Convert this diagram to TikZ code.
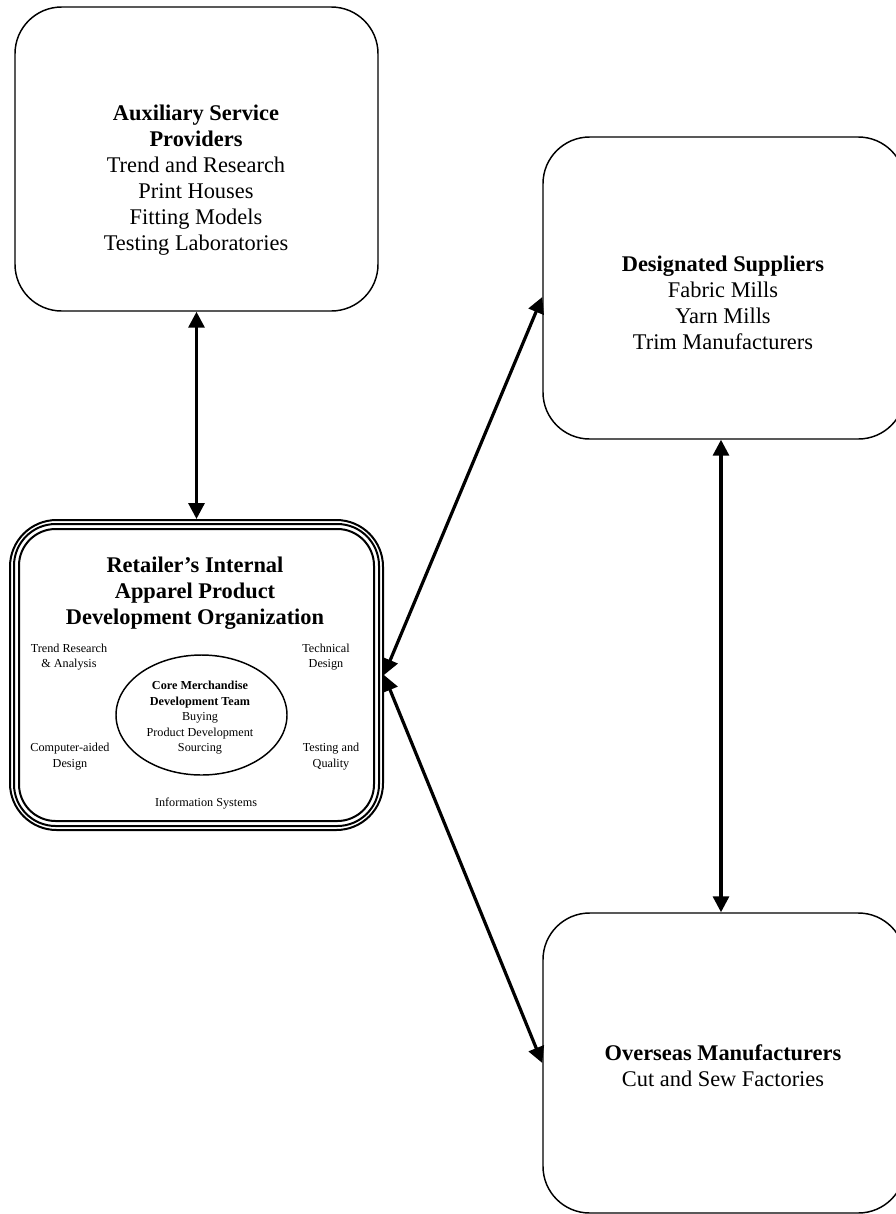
\documentclass[tikz,border=0pt]{standalone}
\usepackage{fontspec}
\setmainfont{Liberation Serif}
\usetikzlibrary{arrows.meta,shapes.geometric}
\begin{document}
\begin{tikzpicture}[x=0.75pt,y=-0.75pt,
  box/.style={draw,line width=1.1pt,rounded corners=35pt,inner sep=0pt},
  tribox/.style={draw,line width=1.5pt,rounded corners=35pt},
  big/.style={font=\fontsize{16.8pt}{19.5pt}\selectfont,align=center,inner sep=0pt},
  small/.style={font=\fontsize{9.15pt}{11.6pt}\selectfont,align=center,inner sep=0pt},
  arr/.style={line width=2.4pt,{Triangle[length=12pt,width=12pt]}-{Triangle[length=12pt,width=12pt]}}]
\useasboundingbox (0,0) rectangle (896,1214);

% boxes
\node[box,minimum width=272.25pt,minimum height=228pt] (aux) at (196.5,159) {};
\node[box,minimum width=271.5pt,minimum height=226.5pt] (des) at (724,288) {};
\node[box,minimum width=271.5pt,minimum height=225pt] (ovs) at (724,1063) {};
\node[box,line width=1.5pt,minimum width=279.75pt,minimum height=232.5pt] (cen) at (196.5,675) {};
\draw[tribox,rounded corners=31.25pt] ([shift={(5,-5)}]cen.south west) rectangle ([shift={(-5,5)}]cen.north east);
\draw[tribox,rounded corners=27.5pt] ([shift={(10,-10)}]cen.south west) rectangle ([shift={(-10,10)}]cen.north east);
\node[draw,ellipse,line width=1.1pt,minimum width=128.25pt,minimum height=90pt,inner sep=0pt] (core) at (201.5,715) {};

% texts
\node[big] (auxt) at (196,180) {\textbf{Auxiliary Service}\\\textbf{Providers}\\Trend and Research\\Print Houses\\Fitting Models\\Testing Laboratories};
\node[big] (dest) at (723,303) {\textbf{Designated Suppliers}\\Fabric Mills\\Yarn Mills\\Trim Manufacturers};
\node[big] (ovst) at (723,1066) {\textbf{Overseas Manufacturers}\\Cut and Sew Factories};
\node[big] (cent) at (195,593) {\textbf{Retailer’s Internal}\\\textbf{Apparel Product}\\\textbf{Development Organization}};
\node[small] (trend) at (69,657) {Trend Research\\\& Analysis};
\node[small] (tech) at (326,657) {Technical\\Design};
\node[small] (cad) at (70,756.7) {Computer-aided\\Design};
\node[small] (test) at (331,756.7) {Testing and\\Quality};
\node[small] (info) at (206,804) {Information Systems};
\node[small] (coret) at (200,718) {\textbf{Core Merchandise}\\\textbf{Development Team}\\Buying\\Product Development\\Sourcing};

% connectors
\draw[arr] (aux.south) -- (cen.north);
\draw[arr] (cen.east) -- ([yshift=-6.75pt]des.west);
\draw[arr] (cen.east) -- (ovs.west);
\draw[arr] ([xshift=-2.25pt]des.south) -- ([xshift=-2.25pt]ovs.north);
\end{tikzpicture}
\end{document}
